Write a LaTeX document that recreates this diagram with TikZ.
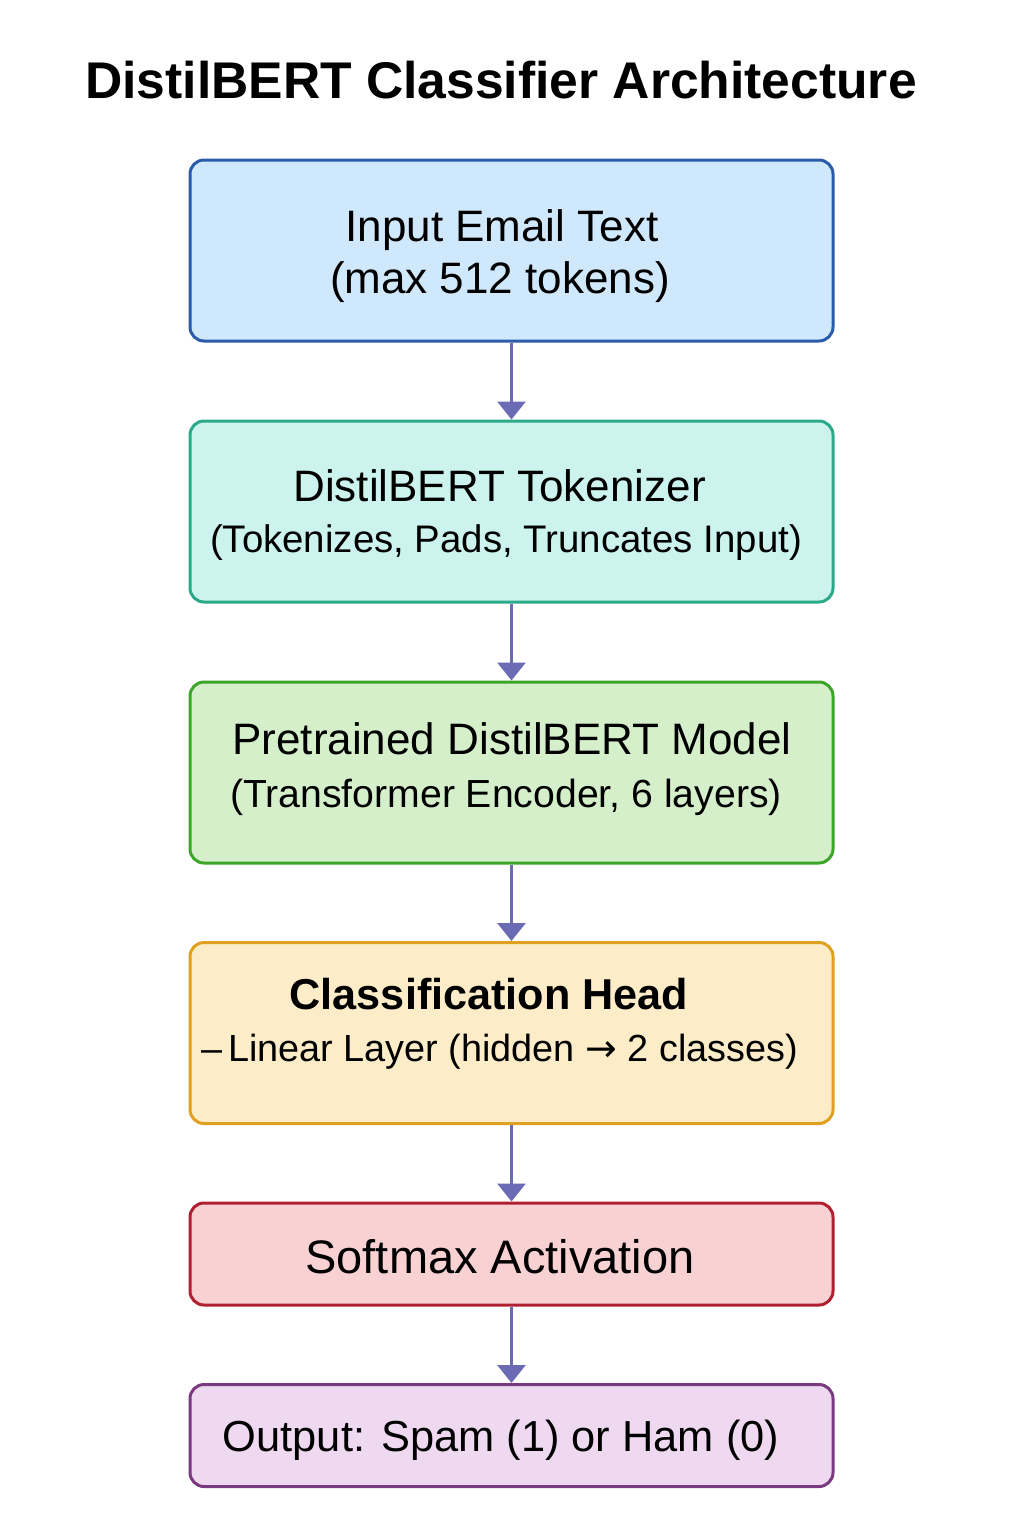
\documentclass[tikz,border=0pt]{standalone}
\usepackage{fontspec}
\setmainfont{Liberation Sans}
\newfontfamily\arrowfont{DejaVu Sans}
\usetikzlibrary{arrows.meta}
\definecolor{f1}{HTML}{D0E8FC}\definecolor{d1}{HTML}{2A5CAA}
\definecolor{f2}{HTML}{CCF3EE}\definecolor{d2}{HTML}{2BAA8A}
\definecolor{f3}{HTML}{D5EFCB}\definecolor{d3}{HTML}{3DA52A}
\definecolor{f4}{HTML}{FDECC8}\definecolor{d4}{HTML}{E0A020}
\definecolor{f5}{HTML}{F8D2D2}\definecolor{d5}{HTML}{B02030}
\definecolor{f6}{HTML}{EED9F0}\definecolor{d6}{HTML}{7A3A80}
\definecolor{arrc}{HTML}{6B6BB5}
\tikzset{
  box/.style={rectangle, rounded corners=7pt, line width=1.5pt, minimum width=321.5pt, inner sep=0pt},
  tall/.style={box, minimum height=90.5pt},
  short/.style={box, minimum height=51pt},
  txt/.style={anchor=base, inner sep=0pt, font=\fontsize{22}{26}\selectfont},
  arr/.style={arrc, line width=1.5pt, -{Triangle[width=14pt,length=9pt]}, shorten >=0pt}
}
\begin{document}
\begin{tikzpicture}[x=0.5pt,y=-0.5pt]
\useasboundingbox[fill=white] (0,0) rectangle (1024,1536);
\node[anchor=base, inner sep=0pt, font=\fontsize{25.8}{30}\selectfont\bfseries] (title) at (501,98) {DistilBERT Classifier Architecture};
\node[tall, fill=f1, draw=d1] (b1) at (511.5,250.5) {};
\node[tall, fill=f2, draw=d2] (b2) at (511.5,511.5) {};
\node[tall, fill=f3, draw=d3] (b3) at (511.5,772.5) {};
\node[tall, fill=f4, draw=d4] (b4) at (511.5,1033) {};
\node[short, fill=f5, draw=d5] (b5) at (511.5,1254) {};
\node[short, fill=f6, draw=d6] (b6) at (511.5,1435.5) {};
\node[txt] (t1a) at (502,241) {Input Email Text};
\node[txt] (t1b) at (500,293) {(max 512 tokens)};
\node[txt] (t2a) at (499.5,501) {DistilBERT Tokenizer};
\node[txt, font=\fontsize{19.2}{23}\selectfont] (t2b) at (506,552) {(Tokenizes, Pads, Truncates Input)};
\node[txt] (t3a) at (512,754) {Pretrained DistilBERT Model};
\node[txt, font=\fontsize{19.6}{23}\selectfont] (t3b) at (506,807) {(Transformer Encoder, 6 layers)};
\node[txt, font=\fontsize{21.6}{26}\selectfont\bfseries] (t4a) at (489,1009) {Classification Head};
\node[txt, font=\fontsize{18.9}{23}\selectfont] (t4b) at (499.5,1061) {–\,Linear Layer (hidden {\arrowfont →} 2 classes)};
\node[txt, font=\fontsize{23.5}{27}\selectfont] (t5) at (500,1273) {Softmax Activation};
\node[txt, font=\fontsize{21.7}{26}\selectfont] (t6) at (501,1451) {Output: Spam (1) or Ham (0)};
\draw[arr] (b1.south) -- (b2.north);
\draw[arr] (b2.south) -- (b3.north);
\draw[arr] (b3.south) -- (b4.north);
\draw[arr] (b4.south) -- (b5.north);
\draw[arr] (b5.south) -- (b6.north);
\end{tikzpicture}
\end{document}
